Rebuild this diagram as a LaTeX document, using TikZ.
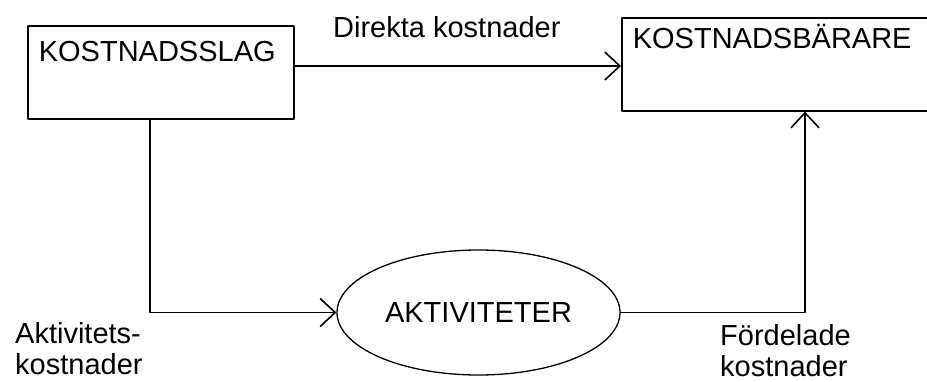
\documentclass[tikz,border=0pt]{standalone}
\usepackage{fontspec}
\setmainfont{Liberation Sans}
\usetikzlibrary{arrows.meta,shapes.geometric}

\tikzset{
  box/.style={draw,line width=1.6pt,anchor=north west,align=left,inner ysep=0pt,inner xsep=11pt},
  oval/.style={draw,ellipse,line width=1.3pt,inner sep=0pt},
  lbl/.style={anchor=base west,align=left,inner sep=0pt}
}

\begin{document}
\begin{tikzpicture}[line cap=round,line join=round,>={Straight Barb[length=15pt,width=28pt]},x=1pt,y=-1pt,font=\fontsize{29}{31}\selectfont]
\clip(0,0) rectangle (927,381);
\node[box,text width=244pt,text height=36pt,text depth=57pt] (slag) at (27,25) {KOSTNADSSLAG};
\node[box,text width=330pt,text height=31pt,text depth=62pt] (barare) at (621,17) {KOSTNADSB\"ARARE};
\node[oval,minimum width=283pt,minimum height=125pt] (akt) at (478.5,312.5) {AKTIVITETER};
\draw [line width=1.6pt,->] (slag.east |- 0,66) -- (barare.west |- 0,66);
\draw [line width=1.6pt,->] (150,0 |- slag.south) |- (akt.west);
\draw [line width=1.6pt,->] (akt.east) -| (805,0 |- barare.south);
% two-line labels: base is the last line
\node[lbl] (direkta) at (333,37) {Direkta kostnader};
\node[lbl] (aktkost) at (15,374) {Aktivitets-\\kostnader};
\node[lbl] (fordelade) at (720,376) {F\"ordelade\\kostnader};
\end{tikzpicture}
\end{document}
